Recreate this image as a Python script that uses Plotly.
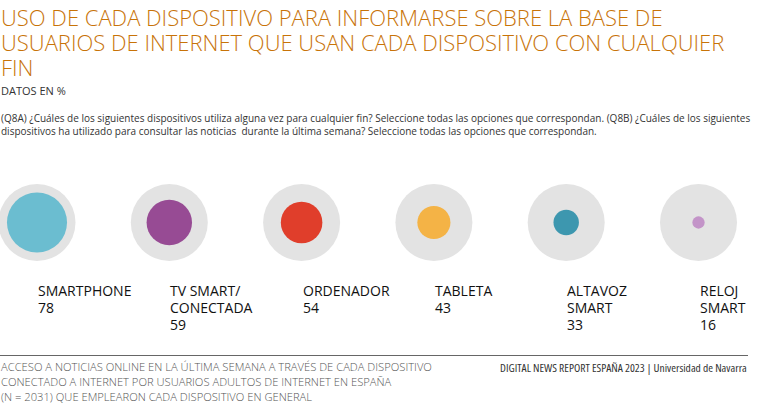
import plotly.graph_objects as go

devices = [["SMARTPHONE"], ["TV SMART/", "CONECTADA"], ["ORDENADOR"], ["TABLETA"], ["ALTAVOZ", "SMART"], ["RELOJ", "SMART"]]
values = [78, 59, 54, 43, 33, 16]
colors = ["#6BBDD0", "#974B94", "#E03E2B", "#F4B346", "#3D97AF", "#C394C8"]
full = [100] * len(values)

title_lines = ["USO DE CADA DISPOSITIVO PARA INFORMARSE SOBRE LA BASE DE",
               "USUARIOS DE INTERNET QUE USAN CADA DISPOSITIVO CON CUALQUIER",
               "FIN"]
subtitle = "DATOS EN %"
question_lines = ["(Q8A) ¿Cuáles de los siguientes dispositivos utiliza alguna vez para cualquier fin? Seleccione todas las opciones que correspondan. (Q8B) ¿Cuáles de los siguientes",
                  "dispositivos ha utilizado para consultar las noticias  durante la última semana? Seleccione todas las opciones que correspondan."]
footer_lines = ["ACCESO A NOTICIAS ONLINE EN LA ÚLTIMA SEMANA A TRAVÉS DE CADA DISPOSITIVO",
                "CONECTADO A INTERNET POR USUARIOS ADULTOS DE INTERNET EN ESPAÑA",
                "(N = 2031) QUE EMPLEARON CADA DISPOSITIVO EN GENERAL"]
footer_right = "DIGITAL NEWS REPORT ESPAÑA 2023 | Universidad de Navarra"

SCALE = 0.77  # px of diameter per percentage point
W, H = 768, 417
CY = 222.5
xs = list(range(len(values)))
ys = [0] * len(values)

fig = go.Figure()
fig.add_trace(go.Scatter(x=xs, y=ys, mode="markers",
                         marker=dict(size=[v * SCALE for v in full], color="#E3E3E3", opacity=1, line=dict(width=0)),
                         hoverinfo="skip", showlegend=False))
fig.add_trace(go.Scatter(x=xs, y=ys, mode="markers",
                         marker=dict(size=[v * SCALE for v in values], color=colors, opacity=1, line=dict(width=0)),
                         text=[" ".join(d) for d in devices], showlegend=False))


def txt(s, stretch):
    return f'<span style="font-stretch:{stretch}%">{s}</span>'


def paper_text(s, x, ypx, size, color, stretch, xanchor="left", weight=400):
    fig.add_annotation(x=x, y=1 - ypx / H, xref="paper", yref="paper", text=txt(s, stretch),
                       showarrow=False, xanchor=xanchor, yanchor="middle", align=xanchor,
                       borderpad=0, font=dict(family="Open Sans", size=size, color=color, weight=weight))


for i, (d, v) in enumerate(zip(devices, values)):
    for j, line in enumerate(d + [str(v)]):
        fig.add_annotation(x=i, y=CY - (290 + 17 * j), xref="x", yref="y", text=txt(line, 96),
                           showarrow=False, xanchor="left", yanchor="middle", align="left", borderpad=0,
                           font=dict(family="Open Sans", size=14, color="#111"))

for j, line in enumerate(title_lines):
    paper_text(line, 0, 16.7 + 25 * j, 22, "#C87308", 90, weight=300)
paper_text(subtitle, 0, 90, 11, "#333", 90)
for j, line in enumerate(question_lines):
    paper_text(line, 0, 117.5 + 13.5 * j, 10, "#333", 90)
for j, line in enumerate(footer_lines):
    paper_text(line, 0, 366 + 15 * j, 11.2, "#555", 90, weight=300)
paper_text(footer_right, 748 / W, 367, 11.5, "#333", 75, xanchor="right")

fig.add_shape(type="line", xref="paper", yref="paper", x0=0, x1=748 / W, y0=1 - 355.5 / H, y1=1 - 355.5 / H,
              line=dict(color="#666", width=1))

fig.update_layout(
    width=W, height=H, margin=dict(l=0, r=0, t=0, b=0),
    paper_bgcolor="white", plot_bgcolor="white",
    xaxis=dict(range=[-37 / 132.3, (W - 37) / 132.3], visible=False, fixedrange=True),
    yaxis=dict(range=[-(H - CY), CY], visible=False, fixedrange=True),
)
fig.write_html("out.html")
